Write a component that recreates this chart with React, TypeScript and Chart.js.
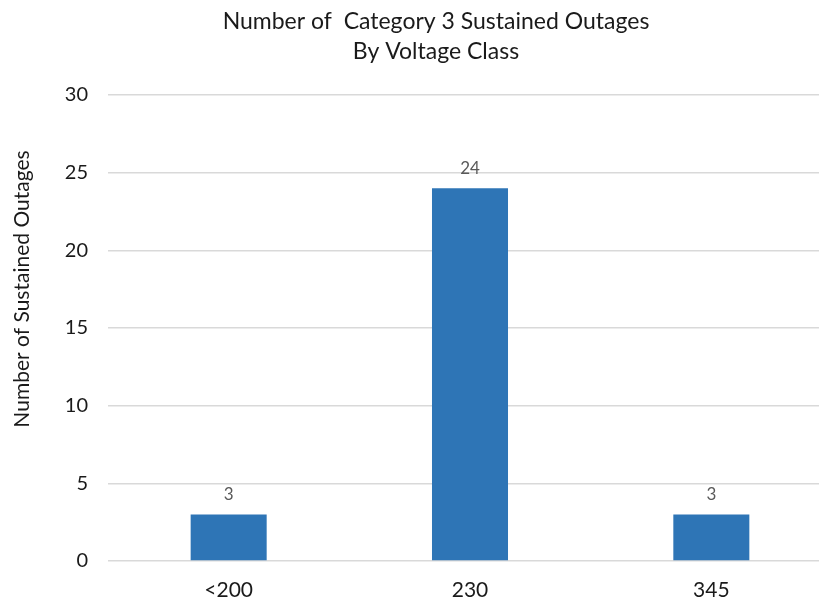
import React, { useEffect, useRef } from "react";
import { Chart, registerables } from "chart.js";

Chart.register(...registerables);

const categories = ["<200", "230", "345"];
const outages = [3, 24, 3];
const titleLines = ["Number of  Category 3 Sustained Outages", "By Voltage Class"];
const yAxisTitle = "Number of Sustained Outages";

const FONT = "Lato, 'Open Sans', sans-serif";
const TEXT = "#1a1a1a";

const valueLabels = {
  id: "valueLabels",
  afterDatasetsDraw(chart: any) {
    const ctx = chart.ctx;
    const meta = chart.getDatasetMeta(0);
    ctx.save();
    ctx.font = `17px ${FONT}`;
    ctx.fillStyle = "#595959";
    ctx.textAlign = "center";
    ctx.textBaseline = "middle";
    meta.data.forEach((bar: any, i: number) => {
      const v = chart.data.datasets[0].data[i];
      ctx.fillText(String(v), bar.x, bar.y - 20);
    });
    ctx.restore();
  },
};

const headings = {
  id: "headings",
  afterDraw(chart: any) {
    const ctx = chart.ctx;
    ctx.save();
    ctx.fillStyle = TEXT;
    ctx.textAlign = "center";
    ctx.textBaseline = "middle";
    ctx.font = `23px ${FONT}`;
    titleLines.forEach((line, i) => ctx.fillText(line, 436, 22 + i * 30));
    ctx.translate(22, 289);
    ctx.rotate(-Math.PI / 2);
    ctx.font = `21px ${FONT}`;
    ctx.fillText(yAxisTitle, 0, 0);
    ctx.restore();
  },
};

export default function App() {
  const ref = useRef<HTMLCanvasElement | null>(null);
  useEffect(() => {
    document.body.style.margin = "0";
    const chart = new Chart(ref.current!, {
      type: "bar",
      data: {
        labels: categories,
        datasets: [
          {
            data: outages,
            backgroundColor: "#2E75B6",
            borderWidth: 0,
            barPercentage: 0.315,
            categoryPercentage: 1,
          },
        ],
      },
      options: {
        animation: false,
        responsive: false,
        devicePixelRatio: 1,
        layout: { padding: { left: 0, right: 8, top: 95, bottom: 0 } },
        plugins: {
          legend: { display: false },
          tooltip: { enabled: false },
          title: { display: false },
        },
        scales: {
          x: {
            afterFit: (s: any) => {
              s.height = 41;
            },
            grid: { display: false, drawTicks: false },
            border: { display: false },
            ticks: {
              color: TEXT,
              font: { family: FONT, size: 21 },
              padding: 17,
              maxRotation: 0,
            },
          },
          y: {
            min: 0,
            max: 30,
            afterFit: (s: any) => {
              s.width = 108;
            },
            grid: { color: "#d9d9d9", lineWidth: 1.5, drawTicks: false },
            border: { display: false },
            ticks: {
              stepSize: 5,
              color: TEXT,
              font: { family: FONT, size: 20 },
              padding: 20,
            },
          },
        },
      },
      plugins: [valueLabels, headings],
    });
    return () => chart.destroy();
  }, []);
  return (
    <div style={{ width: 819, height: 602, overflow: "hidden" }}>
      <canvas ref={ref} width={840} height={602} style={{ display: "block" }} />
    </div>
  );
}
